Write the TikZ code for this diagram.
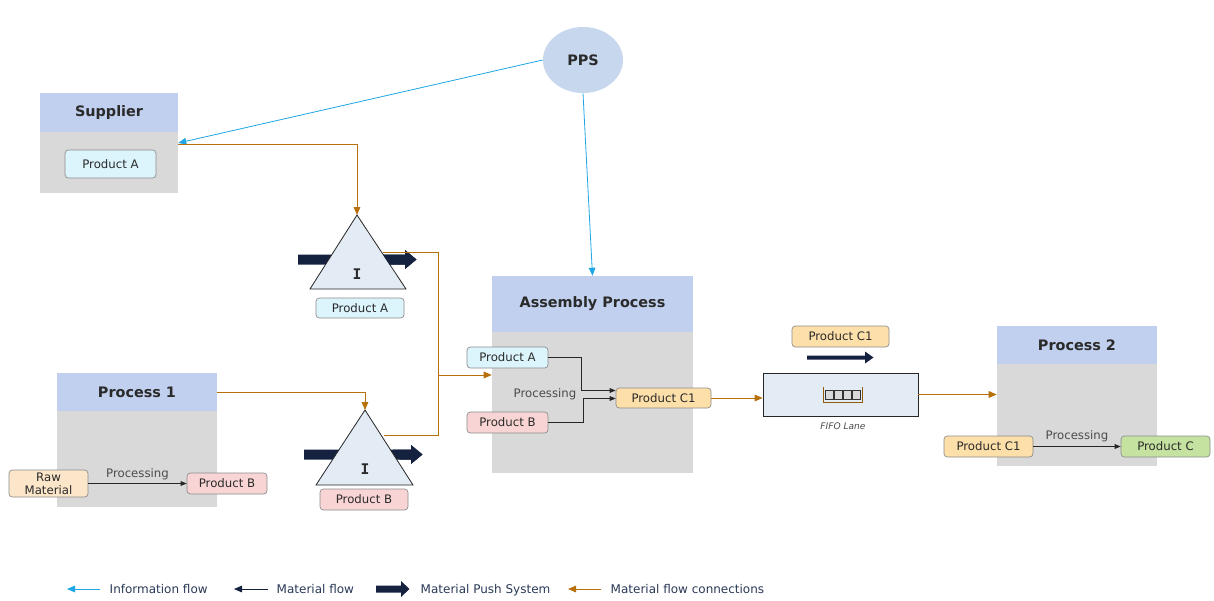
\documentclass[tikz,border=0pt]{standalone}
\usepackage{fontspec}
\setmainfont{DejaVu Sans}
\newfontfamily\monoI{DejaVu Sans Mono}
\usetikzlibrary{arrows.meta,shapes.geometric}
\definecolor{hdr}{HTML}{C1D0EE}
\definecolor{bodyg}{HTML}{D9D9D9}
\definecolor{infoc}{HTML}{1EA7E4}
\definecolor{orng}{HTML}{B8700A}
\definecolor{navy}{HTML}{14213F}
\definecolor{pA}{HTML}{DCF4FC}
\definecolor{pB}{HTML}{F9D4D4}
\definecolor{pC1}{HTML}{FDDFA9}
\definecolor{pC}{HTML}{C5E2A0}
\definecolor{raw}{HTML}{FCE6C9}
\definecolor{trif}{HTML}{E3EBF5}
\definecolor{ppsc}{HTML}{C7D7EE}
\definecolor{txt}{HTML}{2A2A2A}
\definecolor{legt}{HTML}{2B3A57}
\begin{document}
\begin{tikzpicture}[x=0.75pt,y=-0.75pt,
  every node/.style={font=\fontsize{8.8}{10}\selectfont, text=txt},
  pw/.style={minimum width={#1*0.75pt}},
  ph/.style={minimum height={#1*0.75pt}},
  hdrbox/.style={fill=hdr, draw=none, inner sep=0pt, font=\bfseries\fontsize{10.8}{12}\selectfont},
  bodybox/.style={fill=bodyg, draw=none, inner sep=0pt},
  prod/.style={rounded corners=2.5pt, draw=black!45, line width=0.5pt, inner sep=0pt},
  info/.style={infoc, line width=0.6pt, -{Triangle[length=6pt,width=5pt]}},
  matc/.style={orng, line width=0.6pt, -{Triangle[length=6pt,width=5pt]}},
  matf/.style={black!85, line width=0.6pt, -{Triangle[length=4.5pt,width=3.5pt]}},
  proclab/.style={text=black!70},
]
\useasboundingbox (0,0) rectangle (1214,600);
\fill[white] (0,0) rectangle (1214,600);

% Supplier
\node[hdrbox, pw=138, ph=39] (supH) at (109,112.5) {Supplier};
\node[bodybox, pw=138, ph=61] (supB) at (109,162.5) {};
\node[prod, fill=pA, pw=91, ph=28] (supA) at (110.5,164) {Product A};

% PPS
\node[ellipse, fill=ppsc, minimum width=60pt, minimum height=49.5pt, inner sep=0pt, font=\bfseries\fontsize{10.8}{12}\selectfont] (pps) at (583,60) {PPS};

% Process 1
\node[hdrbox, pw=160, ph=38] (p1H) at (137,392) {Process 1};
\node[bodybox, pw=160, ph=96] (p1B) at (137,459) {};
\node[prod, fill=raw, pw=79, ph=27, align=center, font=\fontsize{8.8}{9.8}\selectfont] (rawm) at (48.5,483.5) {Raw\\Material};
\node[prod, fill=pB, pw=80, ph=21] (p1out) at (227,483.5) {Product B};
\draw[matf] (rawm.east) -- (p1out.west) node[midway, above=-1pt, proclab] {Processing};

% Assembly Process
\node[hdrbox, pw=201, ph=56] (asH) at (592.5,304) {Assembly Process};
\node[bodybox, pw=201, ph=141] (asB) at (592.5,402.5) {};
\node[prod, fill=pA, pw=81, ph=21] (asA) at (507.5,357.5) {Product A};
\node[prod, fill=pB, pw=81, ph=21] (asBn) at (507.5,422.5) {Product B};
\node[prod, fill=pC1, pw=95, ph=20] (asC) at (663.5,398) {Product C1};
\node[proclab] (asProc) at (545,394) {Processing};
\draw[matf] (asA.east) -- (581,357.5) -- (581,390.5) -- (asC.west |- 0,390.5);
\draw[matf] (asBn.east) -- (583,422.5) -- (583,398.5) -- (asC.west |- 0,398.5);

% FIFO lane
\node[draw=black!85, fill=trif, line width=0.6pt, pw=155, ph=43, inner sep=0pt] (fifo) at (840.5,394.5) {};
\node[font=\itshape\fontsize{6.8}{8}\selectfont, text=black!70] (fifolab) at (843,426.5) {FIFO Lane};
\node[prod, fill=pC1, pw=97, ph=21] (fifoC) at (840.5,336.5) {Product C1};
\foreach \i in {0,1,2,3}{
  \draw[fill=bodyg, draw=black!80, line width=0.45pt] (825.5+\i*9,390.5) rectangle ++(8,9);
}
\draw[orng!80!black, line width=0.6pt] (823,387) -- (823,402.5) -- (862,402.5) -- (862,387);
\fill[navy] (807,355.5) -- (865,355.5) -- (865,351.5) -- (873.5,357.5) -- (865,363.5) -- (865,359.5) -- (807,359.5) -- cycle;

% Process 2
\node[hdrbox, pw=160, ph=38] (p2H) at (1077,345) {Process 2};
\node[bodybox, pw=160, ph=102] (p2B) at (1077,415) {};
\node[prod, fill=pC1, pw=89, ph=21] (p2in) at (988.5,446.5) {Product C1};
\node[prod, fill=pC, pw=89, ph=21] (p2out) at (1165.5,446.5) {Product C};
\draw[matf] (p2in.east) -- (p2out.west) node[midway, above=0pt, proclab] {Processing};

% Triangle 1 (inventory)
\fill[navy] (298,254.5) -- (405,254.5) -- (405,250) -- (416.5,259.5) -- (405,269) -- (405,264.5) -- (298,264.5) -- cycle;
\coordinate (t1top) at (357,215);
\draw[fill=trif, draw=black!85, line width=0.6pt] (t1top) -- (406,289) -- (310,289) -- cycle;
\fill[navy] (383,254.5) -- (405,254.5) -- (405,250) -- (416.5,259.5) -- (405,269) -- (405,264.5) -- (389.7,264.5) -- cycle;
\node[font=\monoI\bfseries\fontsize{11}{12}\selectfont] (t1I) at (357,274) {I};
\node[prod, fill=pA, pw=88, ph=20] (t1lab) at (360,308) {Product A};
\coordinate (t1r) at (383,252);

% Triangle 2
\fill[navy] (304,449.5) -- (411,449.5) -- (411,445) -- (422.5,454.5) -- (411,464) -- (411,459.5) -- (304,459.5) -- cycle;
\coordinate (t2top) at (365,410);
\draw[fill=trif, draw=black!85, line width=0.6pt] (t2top) -- (413,485) -- (316,485) -- cycle;
\fill[navy] (393,449.5) -- (411,449.5) -- (411,445) -- (422.5,454.5) -- (411,464) -- (411,459.5) -- (399.5,459.5) -- cycle;
\node[font=\monoI\bfseries\fontsize{11}{12}\selectfont] (t2I) at (365,469) {I};
\node[prod, fill=pB, pw=88, ph=21] (t2lab) at (364,499.5) {Product B};
\coordinate (t2r) at (384,435);

% Information flows
\draw[info] (pps.west) -- (supB.east |- 0,143);
\draw[info] (pps.south) -- (asH.north);

% Material flow connections
\draw[matc] (supB.east |- 0,144.5) -- (357,144.5) -- (t1top);
\draw[orng, line width=0.6pt] (t1r) -- (438,252) -- (438,435) -- (t2r);
\draw[matc] (438,375) -- (asB.west |- 0,375);
\draw[matc] (p1H.east) -- (365,392) -- (t2top);
\draw[matc] (asC.east) -- (fifo.west |- asC.east);
\draw[matc] (fifo.east) -- (p2B.west |- fifo.east);

% Legend
\begin{scope}[every node/.style={font=\fontsize{9}{10}\selectfont, text=legt, anchor=base west}]
\coordinate (l1a) at (100,589); \coordinate (l1b) at (67,589);
\draw[info] (l1a) -- (l1b);
\node (leg1) at (105,593) {Information flow};
\coordinate (l2a) at (268,589); \coordinate (l2b) at (234,589);
\draw[navy, line width=0.6pt, -{Triangle[length=6pt,width=5pt]}] (l2a) -- (l2b);
\node (leg2) at (272,593) {Material flow};
\fill[navy] (376,585.5) -- (401,585.5) -- (401,581) -- (409.5,589) -- (401,597) -- (401,592.5) -- (376,592.5) -- cycle;
\node (leg3) at (416,593) {Material Push System};
\coordinate (l4a) at (601,589); \coordinate (l4b) at (568,589);
\draw[matc] (l4a) -- (l4b);
\node (leg4) at (606,593) {Material flow connections};
\end{scope}
\end{tikzpicture}
\end{document}
